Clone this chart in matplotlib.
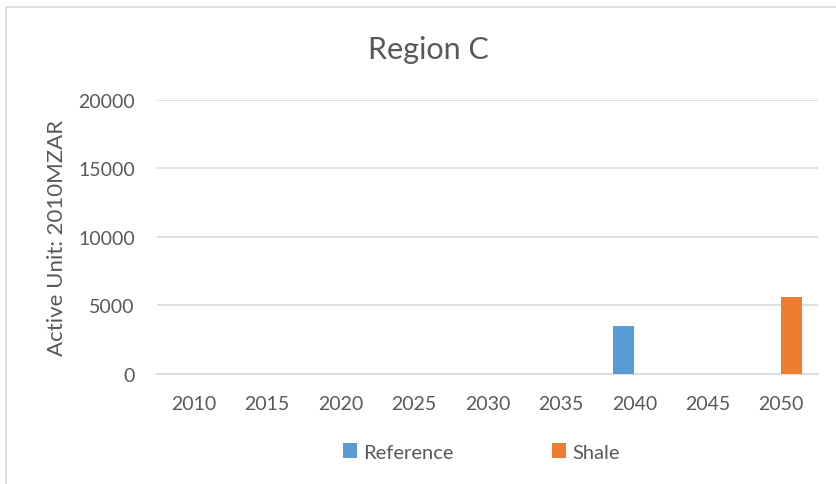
import matplotlib
matplotlib.use("Agg")
import matplotlib.pyplot as plt
import numpy as np
from matplotlib.patches import Rectangle

years = ["2010", "2015", "2020", "2025", "2030", "2035", "2040", "2045", "2050"]
reference = [0, 0, 0, 0, 0, 0, 3500, 0, 0]
shale = [0, 0, 0, 0, 0, 0, 0, 0, 5600]
y_ticks = [0, 5000, 10000, 15000, 20000]

TEXT = "#595959"
GRID = "#D9D9D9"
plt.rcParams["font.family"] = ["Lato", "DejaVu Sans"]

fig = plt.figure(figsize=(8.36, 4.85), dpi=100)
ax = fig.add_axes([157 / 836, 1 - 375 / 485, (818 - 157) / 836, (375 - 100.7) / 485])

# chart border (partly outside the picture, like the reference crop)
fig.patches.append(Rectangle((6 / 836, -0.1), 1.2, 1 - 8 / 485 + 0.1,
                             transform=fig.transFigure, fill=False,
                             edgecolor=GRID, linewidth=1.2))

x = np.arange(len(years))
w = 0.286
ax.bar(x - w / 2, reference, width=w, color="#5B9BD5", label="Reference", zorder=3)
ax.bar(x + w / 2, shale, width=w, color="#ED7D31", label="Shale", zorder=3)

ax.set_xlim(-0.5, len(years) - 0.5)
ax.set_ylim(0, 20000)
ax.set_yticks(y_ticks)
ax.set_yticklabels([str(v) for v in y_ticks])
ax.set_xticks(x)
ax.set_xticklabels(years)
ax.yaxis.grid(True, color=GRID, linewidth=1.2, zorder=0)
ax.set_axisbelow(True)
for s in ["top", "right", "left"]:
    ax.spines[s].set_visible(False)
ax.spines["bottom"].set_color(GRID)
ax.spines["bottom"].set_linewidth(1.2)
ax.tick_params(axis="both", length=0, labelsize=14, colors=TEXT)
ax.tick_params(axis="y", pad=16)
ax.tick_params(axis="x", pad=15)

ax.set_ylabel("Active Unit: 2010MZAR", fontsize=16, color=TEXT, labelpad=8)
fig.text(428 / 836, 1 - 50 / 485, "Region C", ha="center", va="center",
         fontsize=22, color=TEXT)

fig.legend(loc="center", bbox_to_anchor=(481 / 836, 1 - 453 / 485), ncol=2,
           frameon=False, fontsize=14.5, labelcolor=TEXT,
           handlelength=0.7, handleheight=0.7, handletextpad=0.3,
           columnspacing=4.9)

fig.savefig("out.png", dpi=100)
